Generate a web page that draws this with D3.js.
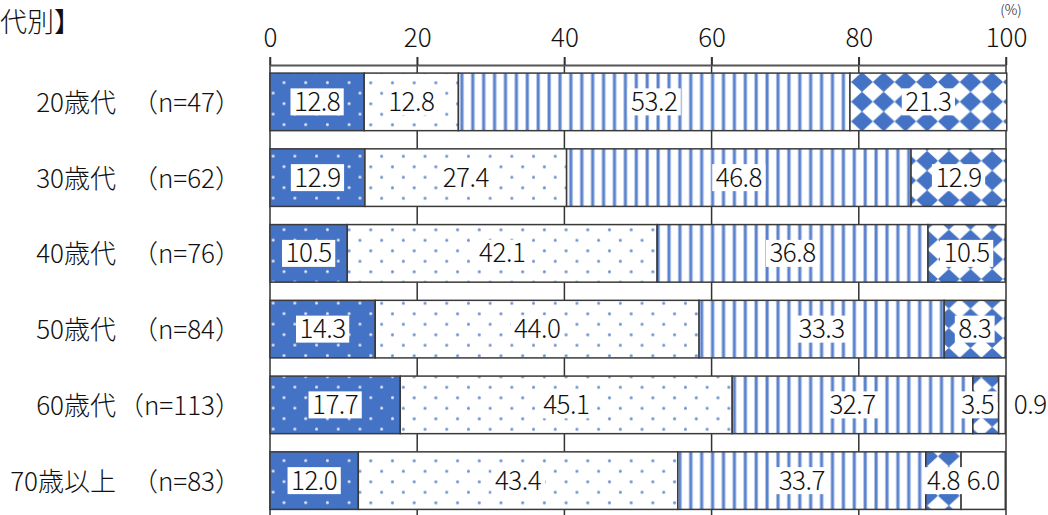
<!DOCTYPE html>
<html>
<head>
<meta charset="utf-8">
<script src="https://cdn.jsdelivr.net/npm/d3@7"></script>
<style>
  body { margin: 0; background: #fff; }
  svg { display: block; font-family: "Noto Sans CJK JP", "Noto Sans", sans-serif; font-weight: 300; }
</style>
</head>
<body>
<div id="chart"></div>
<script>
// values
const categories = ["20歳代", "30歳代", "40歳代", "50歳代", "60歳代", "70歳以上"];
const sampleSizes = ["（n=47）", "（n=62）", "（n=76）", "（n=84）", "（n=113）", "（n=83）"];
const series1 = [12.8, 12.9, 10.5, 14.3, 17.7, 12.0];
const series2 = [12.8, 27.4, 42.1, 44.0, 45.1, 43.4];
const series3 = [53.2, 46.8, 36.8, 33.3, 32.7, 33.7];
const series4 = [21.3, 12.9, 10.5, 8.3, 3.5, 4.8];
const series5 = [0, 0, 0, 0, 0.9, 6.0];
const xTicks = [0, 20, 40, 60, 80, 100];

const width = 1048;
const height = 515;
const blue = "#4472c4";

const svg = d3.select("#chart")
  .append("svg")
  .attr("width", width)
  .attr("height", height);

const defs = svg.append("defs");

// dark blue with white dots
const p1 = defs.append("pattern").attr("id", "p1")
  .attr("patternUnits", "userSpaceOnUse")
  .attr("width", 21.7).attr("height", 21)
  .attr("x", 278.6).attr("y", 77.5);
p1.append("rect").attr("width", 21.7).attr("height", 21).attr("fill", blue);
p1.append("circle").attr("cx", 5.4).attr("cy", 5.2).attr("r", 1.4).attr("fill", "#fff").attr("opacity", 0.9);
p1.append("circle").attr("cx", 16.25).attr("cy", 15.7).attr("r", 1.4).attr("fill", "#fff").attr("opacity", 0.9);

// white with blue dots
const p2 = defs.append("pattern").attr("id", "p2")
  .attr("patternUnits", "userSpaceOnUse")
  .attr("width", 21.7).attr("height", 21)
  .attr("x", 278.6).attr("y", 77.5);
p2.append("rect").attr("width", 21.7).attr("height", 21).attr("fill", "#fff");
p2.append("circle").attr("cx", 5.4).attr("cy", 5.2).attr("r", 1.5).attr("fill", blue).attr("opacity", 0.8);
p2.append("circle").attr("cx", 16.25).attr("cy", 15.7).attr("r", 1.5).attr("fill", blue).attr("opacity", 0.8);

// vertical stripes
const p3 = defs.append("pattern").attr("id", "p3")
  .attr("patternUnits", "userSpaceOnUse")
  .attr("width", 10.9).attr("height", 10)
  .attr("x", 2);
p3.append("rect").attr("width", 10.9).attr("height", 10).attr("fill", "#fff");
p3.append("rect").attr("x", 0).attr("width", 4.2).attr("height", 10).attr("fill", "#c5d3ee");
p3.append("rect").attr("x", 0.8).attr("width", 2.6).attr("height", 10).attr("fill", "#5a82cc");

// diamonds
const dw = 21.7, dh = 19.7;
const p4 = defs.append("pattern").attr("id", "p4")
  .attr("patternUnits", "userSpaceOnUse")
  .attr("width", dw).attr("height", dh)
  .attr("x", 851.15).attr("y", 72.15);
p4.append("rect").attr("width", dw).attr("height", dh).attr("fill", "#fff");
p4.append("polygon")
  .attr("points", [[dw / 2, 0.7], [dw - 0.9, dh / 2], [dw / 2, dh - 0.7], [0.9, dh / 2]].join(" "))
  .attr("fill", blue)
  .attr("stroke", blue)
  .attr("stroke-width", 1.2)
  .attr("stroke-linejoin", "round");

const fills = ["url(#p1)", "url(#p2)", "url(#p3)", "url(#p4)", "#fff"];
const seriesList = [series1, series2, series3, series4, series5];

const x = d3.scaleLinear().domain([0, 100]).range([270, 1006]);
const y = d3.scaleBand().domain(categories)
  .range([64, 518.5])
  .paddingInner(0.24)
  .paddingOuter(0.12);

// gridlines
svg.append("g")
  .selectAll("line")
  .data(xTicks.slice(1))
  .join("line")
  .attr("x1", d => x(d)).attr("x2", d => x(d))
  .attr("y1", 57).attr("y2", height)
  .attr("stroke", "#333")
  .attr("stroke-width", 1.5);

// top axis
const axis = svg.append("g")
  .attr("transform", "translate(0,65)")
  .call(d3.axisTop(x).tickValues(xTicks).tickSize(8).tickSizeOuter(0).tickPadding(10));
axis.select(".domain").attr("stroke", "#555").attr("stroke-width", 2);
axis.selectAll(".tick line").attr("stroke", "#333").attr("stroke-width", 1.5);
axis.selectAll(".tick text")
  .attr("font-size", 26)
  .attr("font-family", "'Noto Sans CJK JP', sans-serif")
  .attr("font-weight", 300)
  .attr("fill", "#111");

// left axis line
svg.append("line")
  .attr("x1", x(0)).attr("x2", x(0))
  .attr("y1", 57).attr("y2", height)
  .attr("stroke", "#333").attr("stroke-width", 1.5);

// stack
const rows = categories.map((c, i) => {
  let acc = 0;
  return seriesList.map((s, k) => {
    const seg = { cat: c, k: k, v: s[i], x0: acc, x1: acc + s[i] };
    acc += s[i];
    return seg;
  });
});
const segs = rows.flat().filter(d => d.v > 0);

svg.append("g")
  .selectAll("rect")
  .data(segs)
  .join("rect")
  .attr("x", d => x(d.x0))
  .attr("y", d => y(d.cat))
  .attr("width", d => x(d.x1) - x(d.x0))
  .attr("height", y.bandwidth())
  .attr("fill", d => fills[d.k])
  .attr("stroke", "#3a3a3a")
  .attr("stroke-width", 1.5);

// data labels
const fmt = d3.format(".1f");
const labels = svg.append("g").selectAll("g")
  .data(segs)
  .join("g")
  .attr("transform", d => {
    const outside = d.k === 4 && d.v < 2;
    let cx = outside ? x(d.x1) + 25 : (x(d.x0) + x(d.x1)) / 2;
    // narrow segment: label nudged left as in the original
    if (!outside && x(d.x1) - x(d.x0) < 30) cx -= 8;
    return "translate(" + cx + "," + (y(d.cat) + y.bandwidth() / 2) + ")";
  });

labels.append("text")
  .attr("text-anchor", "middle")
  .attr("y", 9)
  .attr("font-size", 26)
  .attr("letter-spacing", -0.5)
  .attr("fill", "#111")
  .text(d => fmt(d.v))
  .each(function (d) {
    const b = this.getBBox();
    if (d.k === 4 && d.v < 2) return;
    d3.select(this.parentNode).insert("rect", "text")
      .attr("x", b.x - 3.5).attr("y", -13.5)
      .attr("width", b.width + 7).attr("height", 27)
      .attr("fill", "#fff");
  });

// category labels
svg.append("g").selectAll("text")
  .data(categories)
  .join("text")
  .attr("x", 116)
  .attr("y", d => y(d) + y.bandwidth() / 2 + 10)
  .attr("text-anchor", "end")
  .attr("font-size", 26)
  .attr("fill", "#111")
  .text(d => d);

svg.append("g").selectAll("text")
  .data(sampleSizes)
  .join("text")
  .attr("x", 241)
  .attr("y", (d, i) => y(categories[i]) + y.bandwidth() / 2 + 10)
  .attr("text-anchor", "end")
  .attr("font-size", 26)
  .attr("fill", "#111")
  .text(d => d);

// title fragment and unit
svg.append("text")
  .attr("x", 0).attr("y", 32)
  .attr("font-size", 27)
  .attr("font-weight", 300)
  .attr("fill", "#111")
  .text("代別】");

svg.append("text")
  .attr("x", 1011).attr("y", 15)
  .attr("text-anchor", "middle")
  .attr("font-size", 14)
  .attr("fill", "#111")
  .text("(%)");
</script>
</body>
</html>
